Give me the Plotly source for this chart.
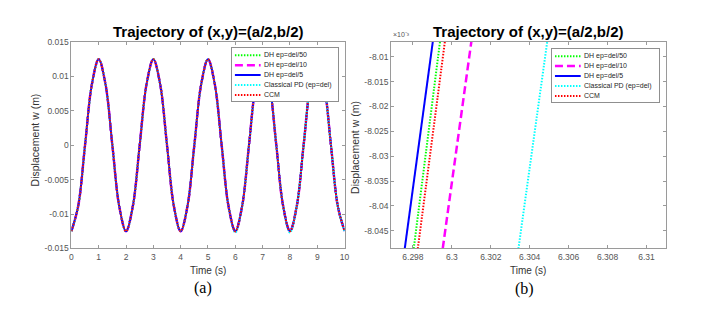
import plotly.graph_objects as go

# ---------------- data ----------------
series_names = ["DH ep=del/50", "DH ep=del/10", "DH ep=del/5",
                "Classical PD (ep=del)", "CCM"]

# full time history (panel a)
t_full = [0.0, 0.25, 0.5, 0.75, 1.0, 1.25, 1.5, 1.75,
          2.0, 2.25, 2.5, 2.75, 3.0, 3.25, 3.5, 3.75,
          4.0, 4.25, 4.5, 4.75, 5.0, 5.25, 5.5, 5.75,
          6.0, 6.25, 6.5, 6.75, 7.0, 7.25, 7.5, 7.75,
          8.0, 8.25, 8.5, 8.75, 9.0, 9.25, 9.5, 9.75,
          10.0]
w_full_dh = [-0.0125, -0.00884, 0.0, 0.00884, 0.0125, 0.00884, 0.0, -0.00884,
             -0.0125, -0.00884, 0.0, 0.00884, 0.0125, 0.00884, 0.0, -0.00884,
             -0.0125, -0.00884, 0.0, 0.00884, 0.0125, 0.00884, 0.0, -0.00884,
             -0.0125, -0.00884, 0.0, 0.00884, 0.0125, 0.00884, 0.0, -0.00884,
             -0.0125, -0.00884, 0.0, 0.00884, 0.0125, 0.00884, 0.0, -0.00884,
             -0.0125]
w_full_pd = [-0.0125, -0.00884, 0.0, 0.00884, 0.0125, 0.00884, 0.0, -0.00884,
             -0.0125, -0.00884, 0.0, 0.00884, 0.0125, 0.00884, 0.0, -0.00884,
             -0.0125, -0.00884, 0.0, 0.00884, 0.0125, 0.00884, 0.0, -0.00884,
             -0.0127, -0.00884, 0.0, 0.00884, 0.0125, 0.00884, 0.0, -0.00884,
             -0.0127, -0.00884, 0.0, 0.00884, 0.0125, 0.00884, 0.0, -0.00884,
             -0.0126]
w_full_ccm = list(w_full_dh)

# zoomed window (panel b): each curve is a straight segment across the window
w_zoom = [-8.0486e-3, -8.0070e-3]
t_zoom_dh50 = [6.29804, 6.29939]
t_zoom_dh10 = [6.29953, 6.30100]
t_zoom_dh5 = [6.29758, 6.29902]
t_zoom_pd = [6.30342, 6.30490]
t_zoom_ccm = [6.29825, 6.29964]

# ticks
x_ticks_full = [0, 1, 2, 3, 4, 5, 6, 7, 8, 9, 10]
x_ticklabels_full = ["0", "1", "2", "3", "4", "5", "6", "7", "8", "9", "10"]
y_ticks_full = [-0.015, -0.01, -0.005, 0, 0.005, 0.01, 0.015]
y_ticklabels_full = ["-0.015", "-0.01", "-0.005", "0", "0.005", "0.01", "0.015"]
x_ticks_zoom = [6.298, 6.300, 6.302, 6.304, 6.306, 6.308, 6.310]
x_ticklabels_zoom = ["6.298", "6.3", "6.302", "6.304", "6.306", "6.308", "6.31"]
y_ticks_zoom = [-8.045e-3, -8.040e-3, -8.035e-3, -8.030e-3,
                -8.025e-3, -8.020e-3, -8.015e-3, -8.010e-3]
y_ticklabels_zoom = ["-8.045", "-8.04", "-8.035", "-8.03",
                     "-8.025", "-8.02", "-8.015", "-8.01"]

# ---------------- styles ----------------
colors = ["#00ff00", "#ff00ff", "#0000ff", "#00ffff", "#ff0000"]
dashes = ["1.5px,1.5px", "8px,4px", "solid", "1.5px,1.5px", "1.5px,1.5px"]
widths = [2, 2.5, 2, 2, 2]

# the page body has an 8px margin, so the figure is drawn 8px in from the corner
OFF = 8
W, H = 705 - OFF, 309 - OFF
FONT = "Liberation Sans, Arial, sans-serif"
AXC = "#9a9a9a"
TXC = "#555555"


def px_x(p):
    return (p - OFF) / W


def px_y(p):
    return 1 - (p - OFF) / H


fig = go.Figure()

full_values = [w_full_dh, w_full_dh, w_full_dh, w_full_pd, w_full_ccm]
zoom_times = [t_zoom_dh50, t_zoom_dh10, t_zoom_dh5, t_zoom_pd, t_zoom_ccm]

for i, name in enumerate(series_names):
    fig.add_trace(go.Scatter(
        x=t_full, y=full_values[i], mode="lines", name=name, showlegend=False,
        line=dict(color=colors[i], dash=dashes[i], width=widths[i], shape="spline"),
        xaxis="x", yaxis="y"))

for i, name in enumerate(series_names):
    fig.add_trace(go.Scatter(
        x=zoom_times[i], y=w_zoom, mode="lines", name=name, showlegend=False,
        line=dict(color=colors[i], dash=dashes[i], width=widths[i]),
        xaxis="x2", yaxis="y2"))

# custom compact legends (one per panel) drawn in their own small axes
legend_axes = [("x3", "y3"), ("x4", "y4")]
for xa, ya in legend_axes:
    for i, name in enumerate(series_names):
        fig.add_trace(go.Scatter(
            x=[2.5, 28.5], y=[i, i], mode="lines", showlegend=False, hoverinfo="skip",
            line=dict(color=colors[i], dash=dashes[i], width=widths[i]),
            xaxis=xa, yaxis=ya))

annotations = []
for xa, ya in legend_axes:
    for i, name in enumerate(series_names):
        annotations.append(dict(
            text=name, x=30, y=i, xref=xa, yref=ya, xanchor="left", yanchor="middle",
            showarrow=False, font=dict(family=FONT, size=7, color="#262626")))

common = dict(showgrid=False, zeroline=False, showline=True, linecolor=AXC,
              linewidth=1, mirror="ticks", ticks="inside", ticklen=3,
              tickcolor=AXC, tickwidth=1,
              tickfont=dict(family=FONT, size=8.5, color=TXC))

legend_ax = dict(showgrid=False, zeroline=False, showline=True, linecolor="#8f8f8f",
                 linewidth=1, mirror=True, ticks="", showticklabels=False,
                 fixedrange=True)

fig.update_layout(
    width=W, height=H,
    margin=dict(l=0, r=0, t=0, b=0),
    paper_bgcolor="white", plot_bgcolor="white",
    showlegend=False,
    xaxis=dict(domain=[px_x(70), px_x(346)], range=[0, 10], anchor="y",
               tickvals=x_ticks_full, ticktext=x_ticklabels_full, **common),
    yaxis=dict(domain=[px_y(251.5), px_y(38)], range=[-0.015, 0.015], anchor="x",
               tickvals=y_ticks_full, ticktext=y_ticklabels_full, **common),
    xaxis2=dict(domain=[px_x(393), px_x(671)], range=[6.29688, 6.31102], anchor="y2",
                tickvals=x_ticks_zoom, ticktext=x_ticklabels_zoom, **common),
    yaxis2=dict(domain=[px_y(251.5), px_y(38)], range=[-8.04854e-3, -8.00703e-3],
                anchor="x2", tickvals=y_ticks_zoom, ticktext=y_ticklabels_zoom, **common),
    xaxis3=dict(domain=[px_x(232.7), px_x(339)], range=[0, 106.3], anchor="y3", **legend_ax),
    yaxis3=dict(domain=[px_y(99.5), px_y(44.5)], range=[4.66, -0.70], anchor="x3", **legend_ax),
    xaxis4=dict(domain=[px_x(556), px_x(663.3)], range=[0, 107.3], anchor="y4", **legend_ax),
    yaxis4=dict(domain=[px_y(100.5), px_y(45.5)], range=[4.66, -0.70], anchor="x4", **legend_ax),
)

title_txt = "<b>Trajectory of (x,y)=(a/2,b/2)</b>"
for cx in (208, 531.5):
    annotations.append(dict(text=title_txt, x=px_x(cx), y=px_y(27), xref="paper", yref="paper",
                            xanchor="center", yanchor="middle", showarrow=False,
                            font=dict(family=FONT, size=15, color="black")))
for cx in (208, 531):
    annotations.append(dict(text="Time (s)", x=px_x(cx), y=px_y(274), xref="paper", yref="paper",
                            xanchor="center", yanchor="middle", showarrow=False,
                            font=dict(family=FONT, size=10, color="#333333")))
for cx, cy in ((33, 139), (357, 147)):
    annotations.append(dict(text="Displacement w (m)", x=px_x(cx), y=px_y(cy), xref="paper",
                            yref="paper", xanchor="center", yanchor="middle", textangle=-90,
                            showarrow=False, font=dict(family=FONT, size=10.5, color="#333333")))
for txt, cx, cy in (("(a)", 202.5, 292), ("(b)", 527.7, 293)):
    annotations.append(dict(text=txt, x=px_x(cx), y=px_y(cy), xref="paper", yref="paper",
                            xanchor="center", yanchor="middle", showarrow=False,
                            font=dict(family="Liberation Serif, Times New Roman, serif",
                                      size=16, color="black")))
annotations.append(dict(text="×10⁻³", x=px_x(393), y=px_y(36), xref="paper",
                        yref="paper", xanchor="left", yanchor="bottom", showarrow=False,
                        font=dict(family=FONT, size=7, color=TXC)))

fig.update_layout(annotations=annotations)

fig.write_html("out.html")
